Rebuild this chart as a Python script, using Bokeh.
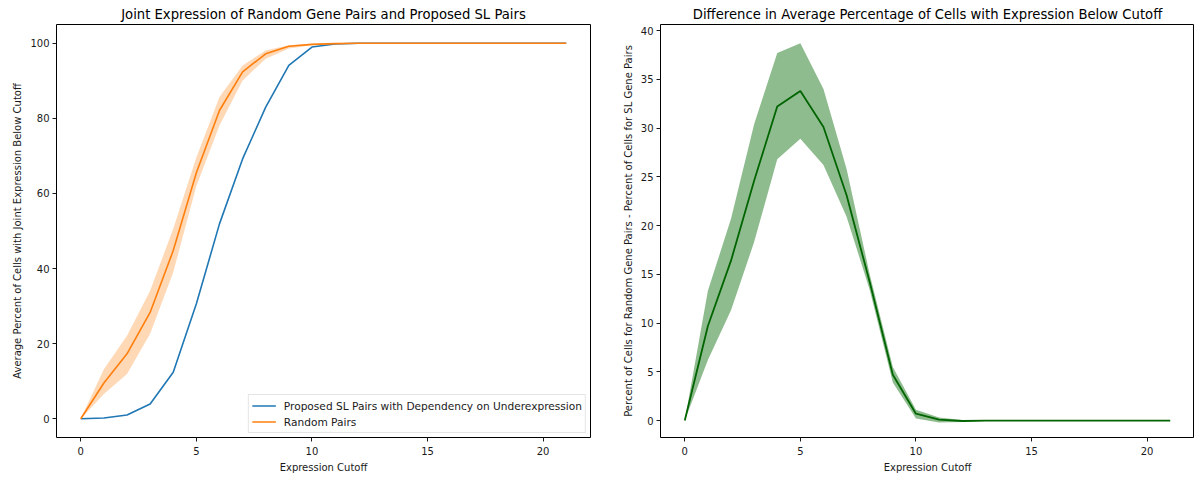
from bokeh.plotting import figure
from bokeh.layouts import row
from bokeh.models import ColumnDataSource, Range1d, Legend, LegendItem
from bokeh.embed import file_html
from bokeh.resources import INLINE

# ---- data ----
cutoff = list(range(22))

sl_mean = [0, 0.2, 1.0, 3.9, 12.4, 30.6, 51.9, 69.2, 83.0, 94.1, 99.0, 99.8,
           100, 100, 100, 100, 100, 100, 100, 100, 100, 100]
rand_mean = [0, 9.5, 17.3, 28.3, 44.8, 65.5, 82.1, 92.4, 97.2, 99.2, 99.7, 99.9,
             100, 100, 100, 100, 100, 100, 100, 100, 100, 100]
rand_upper = [0, 13.2, 22.1, 34.1, 50.6, 69.6, 85.7, 94.1, 98.1, 99.5, 99.9, 100,
              100, 100, 100, 100, 100, 100, 100, 100, 100, 100]
rand_lower = [0, 6.6, 11.9, 22.6, 39.0, 62.0, 78.1, 90.1, 95.9, 98.6, 99.5, 99.8,
              100, 100, 100, 100, 100, 100, 100, 100, 100, 100]

diff_mean = [0, 9.7, 16.4, 24.6, 32.2, 33.8, 30.1, 23.1, 14.2, 4.7, 0.7, 0.1,
             -0.05, 0, 0, 0, 0, 0, 0, 0, 0, 0]
diff_upper = [0, 13.3, 20.7, 30.4, 37.7, 38.7, 34.0, 25.8, 15.0, 5.5, 1.1, 0.3,
              0.05, 0, 0, 0, 0, 0, 0, 0, 0, 0]
diff_lower = [0, 6.2, 11.3, 18.3, 26.8, 28.9, 26.2, 20.9, 13.4, 3.9, 0.2, -0.2,
              -0.15, -0.05, 0, 0, 0, 0, 0, 0, 0, 0]

x_ticks = [0, 5, 10, 15, 20]
left_y_ticks = [0, 20, 40, 60, 80, 100]
right_y_ticks = [0, 5, 10, 15, 20, 25, 30, 35, 40]

FONT = "DejaVu Sans"
TXT = "#1a1a1a"


def style(p):
    p.title.align = "center"
    p.title.vertical_align = "middle"
    p.title.text_font = FONT
    p.title.text_font_size = "13.2px"
    p.title.text_font_style = "normal"
    p.title.text_color = "black"
    p.title.standoff = 4
    p.outline_line_color = "black"
    p.outline_line_width = 1
    p.outline_line_alpha = 1
    p.grid.visible = False
    for ax in (p.xaxis[0], p.yaxis[0]):
        ax.axis_line_color = None
        ax.major_tick_in = 0
        ax.major_tick_out = 4
        ax.major_tick_line_color = TXT
        ax.minor_tick_line_color = None
        ax.major_label_text_font = FONT
        ax.major_label_text_font_size = "10px"
        ax.major_label_text_color = TXT
        ax.major_label_standoff = 3
        ax.axis_label_text_font = FONT
        ax.axis_label_text_font_size = "10px"
        ax.axis_label_text_font_style = "normal"
        ax.axis_label_text_color = TXT
        ax.axis_label_standoff = 4
    p.xaxis[0].major_label_standoff = 5


src = ColumnDataSource(dict(x=cutoff, sl=sl_mean, rm=rand_mean, ru=rand_upper, rl=rand_lower,
                            dm=diff_mean, du=diff_upper, dl=diff_lower))

p1 = figure(frame_width=534, frame_height=413, output_backend="svg", toolbar_location=None,
            x_range=Range1d(-1.05, 22.05), y_range=Range1d(-5, 105),
            title="Joint Expression of Random Gene Pairs and Proposed SL Pairs",
            min_border_left=56, min_border_right=10, min_border_bottom=40, min_border_top=24)
style(p1)
p1.xaxis.axis_label = "Expression Cutoff"
p1.yaxis.axis_label = "Average Percent of Cells with Joint Expression Below Cutoff"
p1.xaxis.ticker = x_ticks
p1.yaxis.ticker = left_y_ticks

r_sl = p1.line("x", "sl", source=src, line_color="#1f77b4", line_width=1.6)
p1.varea(x="x", y1="rl", y2="ru", source=src, fill_color="#ff7f0e", fill_alpha=0.3)
r_rand = p1.line("x", "rm", source=src, line_color="#ff7f0e", line_width=1.6)

leg = Legend(items=[LegendItem(label="Proposed SL Pairs with Dependency on Underexpression", renderers=[r_sl]),
                    LegendItem(label="Random Pairs", renderers=[r_rand])],
             location="bottom_right")
leg.label_text_font = FONT
leg.label_text_font_size = "10.6px"
leg.label_text_color = TXT
leg.label_height = 15
leg.glyph_height = 15
leg.glyph_width = 24
leg.label_standoff = 8
leg.spacing = 1
leg.padding = 3
leg.margin = 4
leg.border_line_color = "#cccccc"
leg.border_line_width = 1
leg.background_fill_alpha = 0.8
p1.add_layout(leg)

p2 = figure(frame_width=534, frame_height=413, output_backend="svg", toolbar_location=None,
            x_range=Range1d(-1.05, 22.05), y_range=Range1d(-1.74, 40.62),
            title="Difference in Average Percentage of Cells with Expression Below Cutoff",
            min_border_left=60, min_border_right=0, min_border_bottom=40, min_border_top=24)
style(p2)
p2.xaxis.axis_label = "Expression Cutoff"
p2.yaxis.axis_label = "Percent of Cells for Random Gene Pairs - Percent of Cells for SL Gene Pairs"
p2.xaxis.ticker = x_ticks
p2.yaxis.ticker = right_y_ticks

p2.varea(x="x", y1="dl", y2="du", source=src, fill_color="#8fbc8f", fill_alpha=1.0)
p2.line("x", "dm", source=src, line_color="#006400", line_width=1.8)

layout = row(p1, p2)
open("out.html", "w").write(file_html(layout, INLINE))
